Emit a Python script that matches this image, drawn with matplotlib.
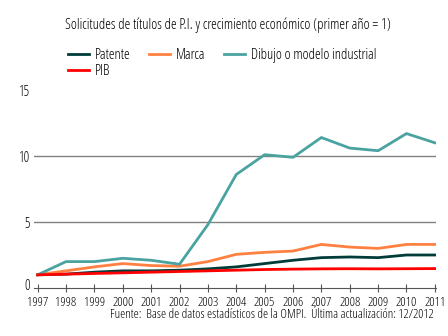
import matplotlib
matplotlib.use("Agg")
import matplotlib.pyplot as plt
import matplotlib.transforms as mtransforms

plt.rcParams['font.family'] = ['Open Sans', 'DejaVu Sans']
plt.rcParams['font.stretch'] = 'condensed'

years = list(range(1997, 2012))
patente = [1.0, 1.05, 1.2, 1.3, 1.3, 1.35, 1.45, 1.6, 1.85, 2.1, 2.3, 2.35, 2.3, 2.5, 2.5]
marca = [1.0, 1.3, 1.6, 1.85, 1.7, 1.65, 2.0, 2.55, 2.7, 2.8, 3.3, 3.1, 3.0, 3.3, 3.3]
dibujo = [1.0, 2.0, 2.0, 2.25, 2.1, 1.8, 4.8, 8.6, 10.1, 9.9, 11.4, 10.6, 10.4, 11.7, 11.0]
pib = [1.0, 1.05, 1.1, 1.15, 1.2, 1.25, 1.3, 1.35, 1.4, 1.43, 1.45, 1.46, 1.45, 1.46, 1.47]
yticks = [0, 5, 10, 15]

W, H = 448, 336
fig = plt.figure(figsize=(W / 100, H / 100), dpi=100)
ax = fig.add_axes([34 / W, 1 - 288 / H, (436 - 34) / W, (288 - 90) / H])

l1, = ax.plot(years, patente, color='#003c3a', lw=2, label='Patente')
l2, = ax.plot(years, marca, color='#ff8040', lw=2, label='Marca')
l3, = ax.plot(years, dibujo, color='#4aa3a0', lw=2, label='Dibujo o modelo industrial')
l4, = ax.plot(years, pib, color='#ff0000', lw=2, label='PIB')

ax.set_xlim(1996.87, 2011.04)
ax.set_ylim(0, 15)
ax.set_yticks(yticks)
ax.set_xticks(years)
for y in [5, 10]:
    ax.axhline(y, color='#808080', lw=1, zorder=0)
for s in ['top', 'right', 'left']:
    ax.spines[s].set_visible(False)
ax.spines['bottom'].set_color('#555555')
ax.tick_params(axis='y', length=0, labelsize=10, pad=3)
ax.tick_params(axis='x', direction='inout', length=6, labelsize=9.5, color='#555555', pad=2.5)
zero = ax.get_yticklabels()[0]
zero.set_transform(zero.get_transform() + mtransforms.ScaledTranslation(0, 3 / 100, fig.dpi_scale_trans))

fig.text(228 / W, 1 - 25 / H, 'Solicitudes de títulos de P.I. y crecimiento económico (primer año = 1)',
         ha='center', va='center', fontsize=10.5)
fig.legend([l1, l4, l2, l3], ['Patente', 'PIB', 'Marca', 'Dibujo o modelo industrial'],
           loc='upper left', bbox_to_anchor=(68 / W, 1 - 48 / H), ncol=3, frameon=False,
           fontsize=10.5, handlelength=1.45, handletextpad=0.4, columnspacing=1.25,
           labelspacing=0.1, borderaxespad=0, borderpad=0)
fig.text(434 / W, 1 - 314 / H, 'Fuente:  Base de datos estadísticos de la OMPI.  Última actualización: 12/2012',
         ha='right', va='center', fontsize=9.3)

fig.savefig('out.png', dpi=100)
